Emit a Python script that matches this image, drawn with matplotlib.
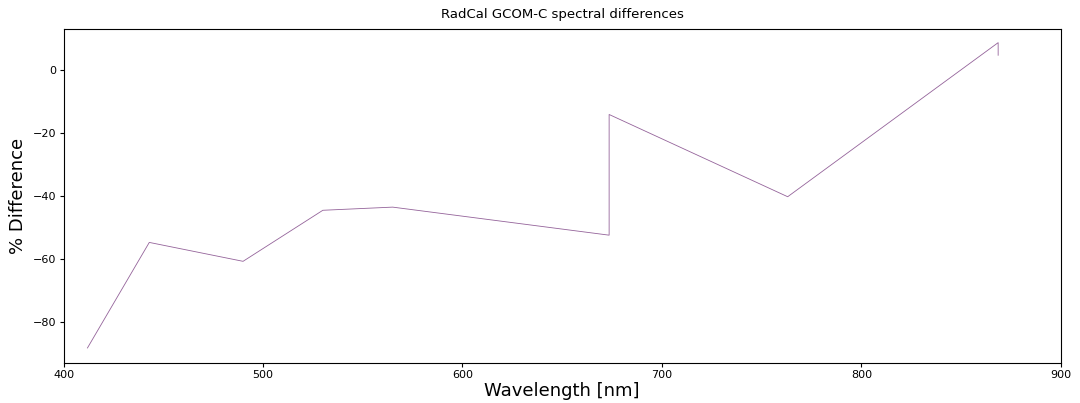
import matplotlib
matplotlib.use("Agg")
import matplotlib.pyplot as plt

# SGLI band centres and the % differences
wavelength = [412, 443, 490, 530, 565, 673.5, 673.5, 763, 868.5, 868.5]
difference = [-88.3, -54.8, -60.8, -44.6, -43.6, -52.5, -14.2, -40.3, 8.6, 4.6]

fig = plt.figure(figsize=(10.8, 4.03), dpi=100)
ax = fig.add_axes([0.0588, 0.0998, 0.9236, 0.828])
ax.plot(wavelength, difference, color='#94639a', linewidth=0.6)
ax.set_xlim(400, 900)
ax.set_ylim(-93.0, 12.9)
ax.set_xticks([400, 500, 600, 700, 800, 900])
ax.set_yticks([0, -20, -40, -60, -80])
ax.set_xlabel('Wavelength [nm]', fontsize=13, labelpad=1)
ax.set_ylabel('% Difference', fontsize=13, labelpad=4)
ax.set_title('RadCal GCOM-C spectral differences', fontsize=9.5, pad=8)
ax.tick_params(labelsize=8, length=3, pad=2.5)
for s in ax.spines.values():
    s.set_linewidth(0.8)
plt.savefig('out.png', dpi=100)
